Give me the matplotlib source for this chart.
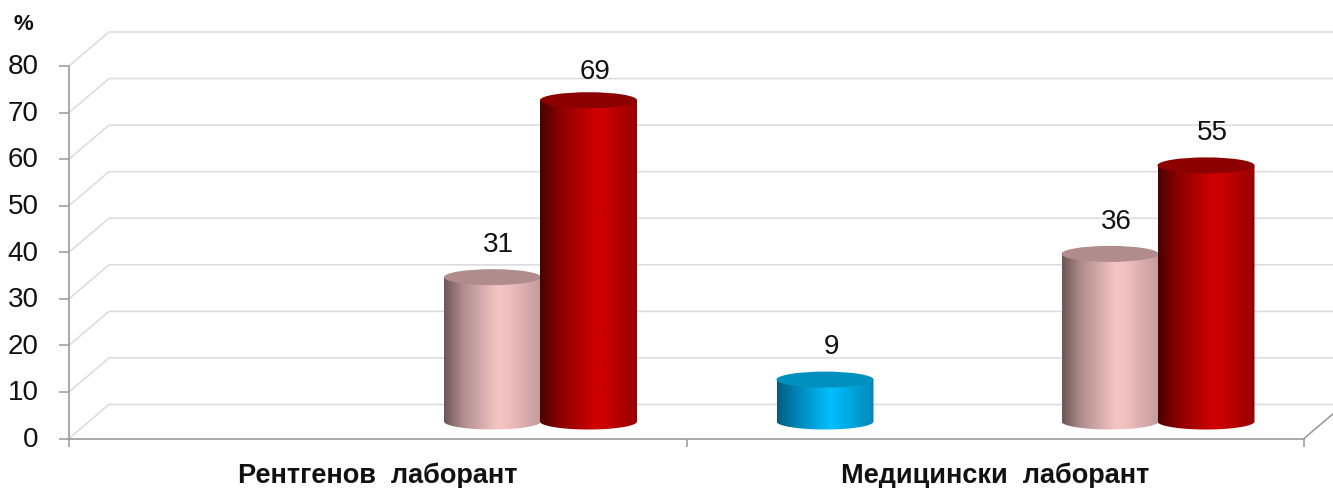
import numpy as np
import matplotlib
matplotlib.use("Agg")
import matplotlib.pyplot as plt
from matplotlib.path import Path
from matplotlib.patches import PathPatch, Ellipse
from matplotlib.colors import LinearSegmentedColormap
from matplotlib.transforms import ScaledTranslation

categories = ["Рентгенов  лаборант", "Медицински  лаборант"]
blue_values = [None, 9]
pink_values = [31, 36]
red_values = [69, 55]
y_ticks = [0, 10, 20, 30, 40, 50, 60, 70, 80]

W, H = 1333, 488
plt.rcParams["font.family"] = ["Liberation Sans", "DejaVu Sans"]
fig = plt.figure(figsize=(W / 100, H / 100), dpi=100)
L, R, T, B = 69, 1304, 66, 438.5
ax = fig.add_axes([L / W, 1 - B / H, (R - L) / W, (B - T) / H])
ax.set_xlim(0, 2)
ax.set_ylim(0, 80)

px_x = 2 / (R - L)
px_y = 80 / (B - T)
depth_x, depth_y = 40 * px_x, 34 * px_y
grid_c, axis_c = "#dcdcdc", "#9a9a9a"

# 3-D walls
for v in y_ticks:
    ax.plot([0, depth_x, 2.2], [v, v + depth_y, v + depth_y], color=grid_c, lw=1.15,
            clip_on=False, zorder=1, solid_joinstyle="miter")
ax.plot([2, 2 + depth_x], [0, depth_y], color=axis_c, lw=1.15, clip_on=False, zorder=1.5)

# Axis styling
for s in ("top", "right"):
    ax.spines[s].set_visible(False)
for s in ("left", "bottom"):
    ax.spines[s].set_color(axis_c)
    ax.spines[s].set_linewidth(1.2)
ax.set_yticks(y_ticks)
ax.set_xticks([0, 1, 2])
ax.set_xticklabels([])
ax.set_xticks([0.5, 1.5], minor=True)
ax.set_xticklabels(categories, minor=True, fontsize=19.5, fontweight="bold", color="#111111")
ax.tick_params(axis="y", length=7, width=1.1, color=axis_c, pad=15, labelsize=20, labelcolor="#111111")
ax.tick_params(axis="x", which="major", length=6, width=1.1, color=axis_c)
ax.tick_params(axis="x", which="minor", length=0, pad=17.3)
lift = ScaledTranslation(0, 1.2 / 72, fig.dpi_scale_trans)
for label in ax.get_yticklabels():
    label.set_transform(label.get_transform() + lift)
ax.patch.set_alpha(0)
fig.text(23.5 / W, 1 - 24 / H, "%", fontsize=16, fontweight="bold", ha="center", va="center", color="#111111")

stops = [0, 0.2, 0.55, 0.65, 1]
palettes = {
    "blue": (["#005c80", "#0084b4", "#00bfff", "#00b4f0", "#0088b8"], "#0090c0"),
    "pink": (["#6e5656", "#b08e8e", "#f4c4c4", "#f2c0c0", "#c49c9c"], "#b08c8c"),
    "red": (["#480000", "#8a0000", "#cc0000", "#cc0000", "#960000"], "#8c0000"),
}


def cylinder(ax, cx, value, name, nudge=0):
    colors, top = palettes[name]
    cmap = LinearSegmentedColormap.from_list(name, list(zip(stops, colors)))
    hw = 48.5 * px_x
    ry = 8 * px_y
    base = depth_y / 2
    y_top = base + value
    t = np.linspace(np.pi, 2 * np.pi, 40)
    bx, by = cx + hw * np.cos(t), base + ry * np.sin(t)
    verts = np.vstack([np.column_stack([bx, by]), [[cx + hw, y_top], [cx - hw, y_top]], [[bx[0], by[0]]]])
    clip = PathPatch(Path(verts, closed=False), transform=ax.transData, fc="none", ec="none")
    ax.add_patch(clip)
    z = 3 + {"blue": 0, "pink": 0.1, "red": 0.2}[name]
    im = ax.imshow(np.linspace(0, 1, 256)[None, :], cmap=cmap, aspect="auto", zorder=z,
                   extent=(cx - hw, cx + hw, base - ry, y_top), interpolation="bilinear")
    im.set_clip_path(clip)
    ax.add_patch(Ellipse((cx, y_top), 2 * hw, 2 * ry, fc=top, ec="none", zorder=z + 0.05, clip_on=False))
    ax.annotate(f"{value}", (cx, y_top), xytext=(4.5, 23.3 + nudge), textcoords="offset points", ha="center",
                va="center", fontsize=20, color="#111111", annotation_clip=False, zorder=4)


label_nudge = {69: -3}
slot_centers_px = {"blue": 138.5, "pink": 423.5, "red": 519.5}
for i in range(len(categories)):
    for vals, name in ((blue_values, "blue"), (pink_values, "pink"), (red_values, "red")):
        if vals[i] is not None:
            cylinder(ax, i + slot_centers_px[name] * px_x, vals[i], name, label_nudge.get(vals[i], 0))

ax.set_xlim(0, 2)
ax.set_ylim(0, 80)
fig.savefig("out.png", dpi=100, facecolor="white")
